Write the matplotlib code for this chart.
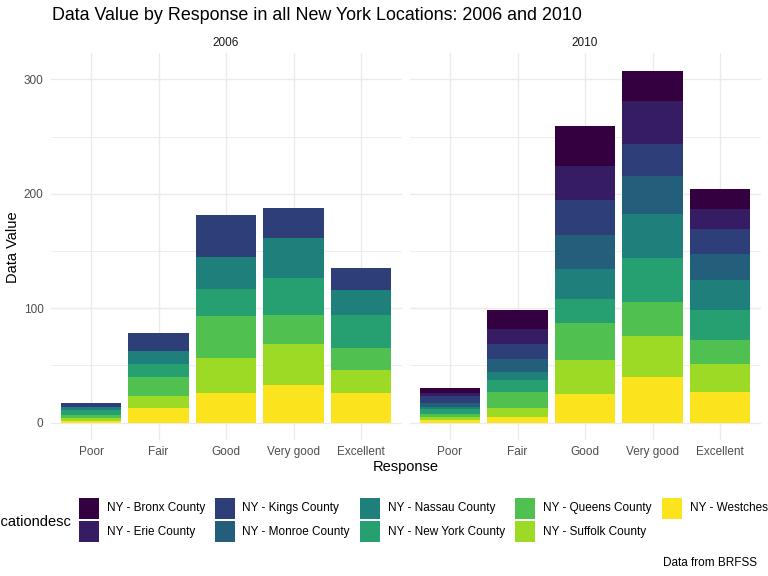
import matplotlib
matplotlib.use("Agg")
import matplotlib.pyplot as plt
from matplotlib.patches import Rectangle
import numpy as np

plt.rcParams['font.family'] = ['Liberation Sans', 'DejaVu Sans']

responses = ["Poor", "Fair", "Good", "Very good", "Excellent"]
years = ["2006", "2010"]
counties = ["NY - Bronx County", "NY - Erie County", "NY - Kings County",
            "NY - Monroe County", "NY - Nassau County", "NY - New York County",
            "NY - Queens County", "NY - Suffolk County", "NY - Westchester County"]
county_colors = ["#340040", "#361C62", "#2E3E79", "#235E7A", "#1F807B",
                 "#27A071", "#50C050", "#9DDA26", "#FBE41E"]

# 2006 values (counties missing in 2006 are None)
bronx_2006 = None
erie_2006 = None
kings_2006 = [3.5, 15.7, 36.7, 26.2, 19.2]
monroe_2006 = None
nassau_2006 = [2.9, 11.4, 28.0, 34.9, 21.8]
newyork_2006 = [3.8, 11.4, 23.6, 32.3, 28.8]
queens_2006 = [2.6, 16.6, 36.7, 25.3, 19.2]
suffolk_2006 = [2.6, 10.5, 30.6, 35.8, 20.1]
westchester_2006 = [1.7, 12.8, 25.9, 32.9, 25.9]

# 2010 values
bronx_2010 = [4.1, 16.6, 34.9, 26.2, 17.5]
erie_2010 = [2.9, 13.1, 29.7, 37.6, 17.5]
kings_2010 = [5.8, 13.1, 30.6, 28.0, 21.8]
monroe_2010 = [3.5, 11.4, 29.7, 33.2, 22.7]
nassau_2010 = [2.3, 7.0, 26.2, 38.4, 26.2]
newyork_2010 = [3.8, 10.5, 21.0, 38.4, 26.2]
queens_2010 = [2.6, 14.0, 32.3, 29.7, 21.0]
suffolk_2010 = [2.6, 7.9, 29.7, 35.8, 24.5]
westchester_2010 = [2.6, 5.0, 25.0, 39.9, 26.8]

data = {
    "2006": [bronx_2006, erie_2006, kings_2006, monroe_2006, nassau_2006,
             newyork_2006, queens_2006, suffolk_2006, westchester_2006],
    "2010": [bronx_2010, erie_2010, kings_2010, monroe_2010, nassau_2010,
             newyork_2010, queens_2010, suffolk_2010, westchester_2010],
}

W, H = 768, 576
fig = plt.figure(figsize=(W / 100, H / 100), dpi=100)

def px(x, y):
    return x / W, 1 - y / H

panel_lefts = [50.5, 409.5]
panel_w = 351.0
panel_top, panel_bot = 53.4, 440.3
grid_c = "#EBEBEB"
tick_c = "#4D4D4D"
small = 8.5

x = np.arange(len(responses))
for i, yr in enumerate(years):
    l = panel_lefts[i]
    ax = fig.add_axes([l / W, 1 - panel_bot / H, panel_w / W, (panel_bot - panel_top) / H])
    bottom = np.zeros(len(responses))
    # ggplot stacks first factor level on top -> draw from last level upward
    for cname, col, vals in reversed(list(zip(counties, county_colors, data[yr]))):
        if vals is None:
            continue
        v = np.array(vals)
        ax.bar(x, v, width=0.9, bottom=bottom, color=col, linewidth=0, zorder=3)
        bottom += v
    ax.set_xlim(-0.6, 4.6)
    ax.set_ylim(-15.4, 322.6)
    ax.set_yticks([0, 100, 200, 300])
    ax.set_yticks([50, 150, 250], minor=True)
    ax.set_xticks(x)
    ax.set_xticklabels(responses, fontsize=small, color=tick_c)
    ax.grid(True, which='major', color=grid_c, linewidth=1.0, zorder=0)
    ax.grid(True, which='minor', axis='y', color=grid_c, linewidth=0.6, zorder=0)
    ax.tick_params(axis='both', which='both', length=0)
    ax.tick_params(axis='x', pad=4)
    ax.tick_params(axis='y', pad=5, labelsize=small, labelcolor=tick_c)
    if i == 1:
        ax.set_yticklabels([])
    for s in ax.spines.values():
        s.set_visible(False)
    ax.set_facecolor('white')
    cx = l + panel_w / 2
    fig.text(*px(cx, 43), yr, ha='center', va='center', fontsize=small, color="#1A1A1A")

# titles
fig.text(*px(52, 20), "Data Value by Response in all New York Locations: 2006 and 2010",
         ha='left', va='baseline', fontsize=12.9, color='black')
fig.text(*px(13, 247), "Data Value", rotation=90, ha='center', va='center',
         fontsize=10.5, color='black')
fig.text(*px(405.5, 467), "Response", ha='center', va='center', fontsize=10.5, color='black')

# legend
fig.text(*px(71, 522), "locationdesc", ha='right', va='center', fontsize=10.5, color='black')
col_x = [79.4, 214.5, 360.3, 515.2, 661.8]
row_y = [(498, 519), (521, 542)]
for k, (cname, col) in enumerate(zip(counties, county_colors)):
    c = k // 2
    r = k % 2
    x0 = col_x[c]
    y0, y1 = row_y[r]
    fx, fy = px(x0, y1)
    fig.patches.append(Rectangle((fx, fy), 20 / W, (y1 - y0) / H, transform=fig.transFigure,
                                 facecolor=col, edgecolor='none'))
    fig.text(*px(x0 + 28, (y0 + y1) / 2), cname, ha='left', va='center', fontsize=small, color='black')

fig.text(*px(757, 563), "Data from BRFSS", ha='right', va='center', fontsize=small, color='black')

fig.savefig("out.png", dpi=100, facecolor='white')
